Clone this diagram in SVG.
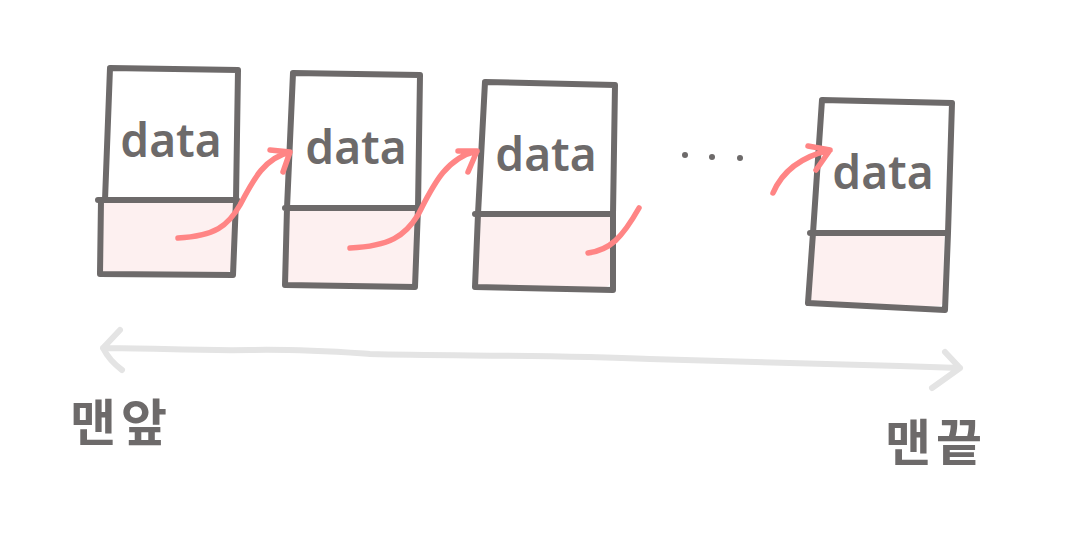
<svg xmlns="http://www.w3.org/2000/svg" width="1073" height="543" viewBox="0 0 1073 543">
<style>
.box{fill:none;stroke:#6d6a6a;stroke-width:6;stroke-linecap:round;stroke-linejoin:round}
.pink{fill:#fdf0f0;stroke:none}
.data{font-family:"Noto Sans","Liberation Sans",sans-serif;font-size:46px;font-weight:600;fill:#6d6a6a;text-anchor:middle}
.link{fill:none;stroke:#ff8585;stroke-width:5.5;stroke-linecap:round;stroke-linejoin:round}
.axis{fill:none;stroke:#e4e4e4;stroke-width:6;stroke-linecap:round;stroke-linejoin:round}
.lbl{font-family:"Noto Sans CJK KR","Noto Sans",sans-serif;font-size:50px;font-weight:700;fill:#6d6a6a;letter-spacing:5px}
.dot{fill:#6d6a6a}
</style>
<rect width="1073" height="543" fill="#ffffff"/>
<g id="node1">
<path class="pink" d="M101,203 L232,203 Q234,204 233,215 L232,266 Q232,272 226,272 L104,272 Q99,272 99,266 Z"/>
<path class="box" d="M110,68 L238,70 L236,200 L233,275 L100,274 L101,200 L105,200 Z M98,200 L237,200"/>
<text class="data" x="171" y="157">data</text>
</g>
<g id="node2">
<path class="pink" d="M287,211 L416,211 L415,278 Q415,284 409,284 L292,284 Q286,284 286,278 Z"/>
<path class="box" d="M293,73 L420,75 L418,208 L415,287 L285,285 L287,208 Z M285,208 L418,208"/>
<text class="data" x="356" y="164">data</text>
</g>
<g id="node3">
<path class="pink" d="M477,217 L610,217 L610,281 Q610,287 604,287 L482,287 Q476,287 476,281 Z"/>
<path class="box" d="M485,82 L615,85 L613,214 L613,290 L475,287 L478,214 Z M475,214 L613,214"/>
<text class="data" x="546" y="171">data</text>
</g>
<g id="node4">
<path class="pink" d="M811,236 L944,236 L943,300 Q943,306 937,306 L816,306 Q810,306 810,300 Z"/>
<path class="box" d="M822,100 L952,103 L948,233 L945,310 L808,303 L813,233 Z M810,233 L948,233"/>
<text class="data" x="883" y="189">data</text>
</g>
<g id="ellipsis">
<circle class="dot" cx="685" cy="155" r="3"/>
<circle class="dot" cx="712" cy="157" r="3"/>
<circle class="dot" cx="740" cy="158" r="3"/>
</g>
<g id="connectors">
<path class="link" d="M178,238 C215,236 228,226 240,205 C254,178 265,158 290,152 M270,150 L290,152 L283,172"/>
<path class="link" d="M350,248 C390,246 405,236 418,215 C432,188 445,158 477,151 M458,151 L477,151 L468,172"/>
<path class="link" d="M588,253 C610,250 622,238 639,208"/>
<path class="link" d="M773,193 C782,172 800,157 830,150 M808,146 L830,150 L816,170"/>
<path class="axis" d="M103,348 C150,348 200,351 250,350 C300,349 340,352 370,354 C450,356 550,355 650,359 C750,362 850,364 900,366 L960,368 M120,330 L103,348 C108,358 114,364 122,370 M945,352 L960,368 L932,388"/>
</g>
<g id="labels">
<text class="lbl" x="70" y="441">맨앞</text>
<text class="lbl" x="885" y="461">맨끝</text>
</g>
</svg>
